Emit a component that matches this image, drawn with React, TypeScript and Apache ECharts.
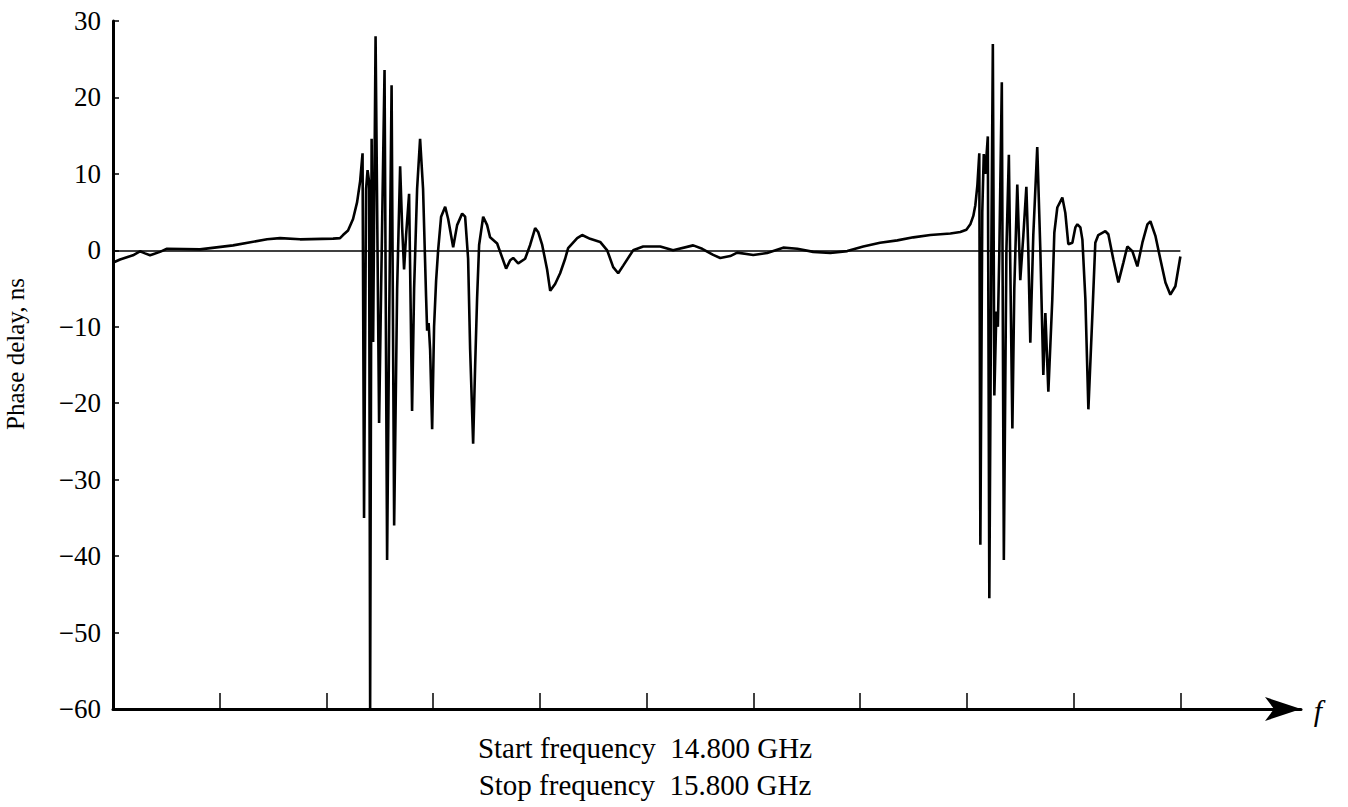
import React, { useEffect, useRef } from "react";
import * as echarts from "echarts";

const freqGHz = [
  14.8, 14.8019, 14.8066, 14.8187, 14.8253, 14.83, 14.8347, 14.844, 14.8506, 14.8815,
  14.9125, 14.9444, 14.9565, 14.9753, 15.0062, 15.0127, 15.0155, 15.0202, 15.0249, 15.0287,
  15.0315, 15.0338, 15.0352, 15.0371, 15.0385, 15.0399, 15.0409, 15.0423, 15.0437, 15.046,
  15.0493, 15.0512, 15.0544, 15.0568, 15.0587, 15.061, 15.0634, 15.0662, 15.069, 15.0709,
  15.0727, 15.0746, 15.0774, 15.0802, 15.0821, 15.0849, 15.0877, 15.0905, 15.0933, 15.0943,
  15.0957, 15.0971, 15.099, 15.1008, 15.1027, 15.1046, 15.1074, 15.1112, 15.114, 15.1187,
  15.1224, 15.1271, 15.1299, 15.1327, 15.1346, 15.1374, 15.1393, 15.1411, 15.143, 15.1468,
  15.1505, 15.1533, 15.1599, 15.1627, 15.1683, 15.1721, 15.1749, 15.1796, 15.1861, 15.1908,
  15.1955, 15.1983, 15.2021, 15.2067, 15.2096, 15.2142, 15.2189, 15.2236, 15.2264, 15.2349,
  15.2395, 15.247, 15.2564, 15.263, 15.2686, 15.2733, 15.278, 15.2873, 15.2967, 15.3127,
  15.3248, 15.3436, 15.352, 15.3623, 15.3689, 15.3783, 15.3848, 15.3998, 15.4129, 15.4279,
  15.4411, 15.456, 15.472, 15.4879, 15.5029, 15.5186, 15.5348, 15.5498, 15.5657, 15.5751,
  15.5845, 15.5938, 15.5995, 15.6032, 15.606, 15.6079, 15.6098, 15.6116, 15.6126, 15.6144,
  15.6158, 15.6172, 15.6196, 15.621, 15.6229, 15.6243, 15.6257, 15.6276, 15.629, 15.6304,
  15.6327, 15.6346, 15.637, 15.6393, 15.6426, 15.6444, 15.6472, 15.65, 15.6529, 15.6557,
  15.6575, 15.6594, 15.6622, 15.6659, 15.6688, 15.6716, 15.6735, 15.6763, 15.68, 15.6819,
  15.6847, 15.6894, 15.6922, 15.695, 15.6988, 15.7016, 15.7035, 15.7063, 15.7082, 15.711,
  15.7138, 15.7175, 15.7203, 15.7231, 15.7297, 15.7325, 15.7372, 15.7419, 15.7466, 15.7503,
  15.755, 15.7597, 15.7644, 15.7691, 15.7719, 15.7766, 15.7813, 15.786, 15.7906, 15.7953,
  15.8,
];

const phaseNs = [
  -1.6, -1.5, -1.2, -0.65, -0.13, -0.4, -0.65, -0.2, 0.2, 0.13,
  0.65, 1.44, 1.6, 1.44, 1.53, 1.6, 2.0, 2.6, 4.1, 6.3,
  9.0, 12.7, -35, 8, 10.5, 9, -60, 14.6, -12, 28,
  -22.6, -5, 23.6, -40.5, -10, 21.6, -36, -5, 11.0, 3,
  -2.5, 2, 7.4, -21, -5, 8, 14.6, 8, -6, -10.5,
  -9.5, -13, -23.4, -10, -4, 0, 4.4, 5.7, 4.1, 0.4,
  3.3, 4.8, 4.4, -1.1, -13, -25.3, -15, -6.3, 0.7, 4.4,
  3.3, 1.7, 0.9, -0.2, -2.4, -1.3, -1.0, -1.7, -1.1, 0.7,
  2.9, 2.4, 0.7, -2.5, -5.3, -4.4, -3.0, -1.1, 0.3, 1.6,
  2.0, 1.5, 1.1, 0, -2.2, -3.0, -2.0, 0, 0.5, 0.5,
  0, 0.65, 0.2, -0.6, -1.0, -0.75, -0.3, -0.6, -0.35, 0.35,
  0.2, -0.2, -0.35, -0.1, 0.5, 1.0, 1.3, 1.7, 2.0, 2.1,
  2.2, 2.4, 2.7, 3.4, 4.5, 5.9, 8.5, 12.7, -38.5, 5,
  12.6, 10, 14.9, -45.5, 0, 27, -19, -8, -10, 0,
  22, -40.5, 0, 12.5, -23.3, -5, 8.6, -3.9, 2, 8.3,
  0, -12.1, 2, 13.5, 0, -16.3, -8.2, -18.5, -6.4, 2.3,
  5.6, 6.9, 4.9, 0.8, 1.0, 3.0, 3.4, 3.0, 1.4, -6.4,
  -20.8, -8.6, 1.0, 2.0, 2.5, 2.1, -1.2, -4.2, -1.6, 0.5,
  -0.1, -2.1, 1.0, 3.4, 3.8, 1.9, -1.2, -4.2, -5.8, -4.7,
  -0.8,
];

const xTickValues = [14.9, 15.0, 15.1, 15.2, 15.3, 15.4, 15.5, 15.6, 15.7, 15.8];
const yName = "Phase delay, ns";
const startText = "Start frequency\u00a0\u00a014.800 GHz";
const stopText = "Stop frequency\u00a0\u00a015.800 GHz";
const axisSymbolText = "f";

export default function App() {
  const ref = useRef<HTMLDivElement>(null);
  useEffect(() => {
    document.body.style.margin = "0";
    const chart = echarts.init(ref.current!, undefined, { renderer: "svg" });
    const font = "'Liberation Serif', 'Times New Roman', Times, serif";
    const data = freqGHz.map((f, i) => [f, phaseNs[i]]);
    chart.setOption({
      animation: false,
      backgroundColor: "#ffffff",
      grid: {
        left: 113,
        top: 21,
        width: 1188,
        height: 688,
        containLabel: false,
        outerBoundsMode: "none",
      },
      xAxis: {
        type: "value",
        min: 14.8,
        max: 15.913,
        axisLine: {
          show: true,
          onZero: false,
          lineStyle: { color: "#000", width: 3 },
          symbol: ["none", "arrow"],
          symbolSize: [18, 36],
        },
        axisTick: {
          show: true,
          inside: true,
          length: 16,
          lineStyle: { color: "#000", width: 1.5 },
          customValues: xTickValues,
        },
        axisLabel: { show: false },
        splitLine: { show: false },
      },
      yAxis: {
        type: "value",
        min: -60,
        max: 30,
        interval: 10,
        name: yName,
        nameLocation: "middle",
        nameGap: 85,
        nameRotate: 90,
        nameTextStyle: { fontFamily: font, fontSize: 25, color: "#000", padding: [0, 0, 0, 22] },
        axisLine: { show: true, lineStyle: { color: "#000", width: 3 } },
        axisTick: { show: true, inside: true, length: 6, lineStyle: { color: "#000", width: 1.5 } },
        axisLabel: {
          fontFamily: font,
          fontSize: 27,
          color: "#000",
          margin: 12,
          formatter: (v: number) => String(v).replace("-", "\u2212"),
        },
        splitLine: { show: false },
      },
      series: [
        {
          type: "line",
          data,
          showSymbol: false,
          symbol: "none",
          lineStyle: { color: "#000", width: 2.6 },
          markLine: {
            silent: true,
            symbol: ["none", "none"],
            label: { show: false },
            lineStyle: { type: "solid", color: "#000", width: 1.5 },
            data: [[{ coord: [14.8, 0] }, { coord: [15.8, 0] }]],
          },
        },
      ],
      graphic: [
        {
          type: "text",
          x: 645,
          y: 748,
          style: {
            text: startText,
            font: `29px ${font}`,
            fill: "#000",
            textAlign: "center",
            textVerticalAlign: "middle",
            align: "center",
            verticalAlign: "middle",
          },
        },
        {
          type: "text",
          x: 645,
          y: 785,
          style: {
            text: stopText,
            font: `29px ${font}`,
            fill: "#000",
            textAlign: "center",
            textVerticalAlign: "middle",
            align: "center",
            verticalAlign: "middle",
          },
        },
        {
          type: "text",
          x: 1318,
          y: 710,
          style: {
            text: axisSymbolText,
            font: `italic 30px ${font}`,
            fill: "#000",
            textAlign: "center",
            textVerticalAlign: "middle",
            align: "center",
            verticalAlign: "middle",
          },
        },
      ],
    });
    return () => chart.dispose();
  }, []);
  return <div ref={ref} style={{ width: 1348, height: 807 }} />;
}
